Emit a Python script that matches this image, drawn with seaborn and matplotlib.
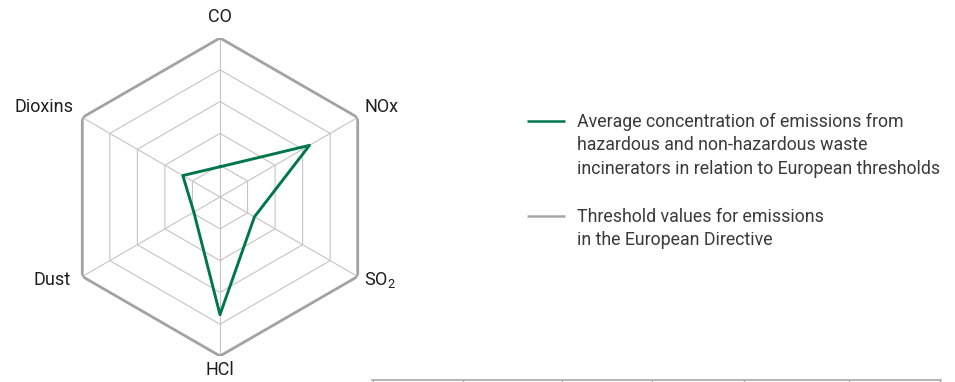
import numpy as np
import pandas as pd
import matplotlib
matplotlib.use("Agg")
import matplotlib.pyplot as plt
import seaborn as sns

# Pollutants around the radar, clockwise from the top
categories = ["CO", "NOx", r"SO$_\mathregular{2}$", "HCl", "Dust", "Dioxins"]
# Average emission concentration as a share of the European threshold
emissions = [0.19, 0.65, 0.25, 0.74, 0.19, 0.27]
# European Directive threshold (100 %)
threshold = [1.0, 1.0, 1.0, 1.0, 1.0, 1.0]
grid_levels = [0.2, 0.4, 0.6, 0.8]

legend_emissions = ["Average concentration of emissions from",
                    "hazardous and non-hazardous waste",
                    "incinerators in relation to European thresholds"]
legend_threshold = ["Threshold values for emissions",
                    "in the European Directive"]

GREEN = "#00774a"
GRAY_OUTER = "#a2a2a2"
GRAY_GRID = "#c4c4c4"
TEXT = "#1e1e1e"
LEGEND_TEXT = "#3a3a3a"

sns.set_theme(style="white")
plt.rcParams["font.family"] = ["Roboto", "DejaVu Sans"]
plt.rcParams["mathtext.fontset"] = "custom"
plt.rcParams["mathtext.rm"] = "Roboto"

fig = plt.figure(figsize=(9.55, 3.82), dpi=100)
W, H = 955, 382
cx, cy, R = 220, 197, 159
ax = fig.add_axes([(cx - R) / W, (H - cy - R) / H, 2 * R / W, 2 * R / H],
                  projection="polar")
ax.set_theta_offset(np.pi / 2)
ax.set_theta_direction(-1)

n = len(categories)
theta = np.arange(n) * 2 * np.pi / n
theta_closed = np.append(theta, theta[0])


def closed(values):
    return np.append(values, values[0])


# hexagonal grid rings and spokes
for lvl in grid_levels:
    ax.plot(theta_closed, [lvl] * (n + 1), color=GRAY_GRID, lw=0.8, zorder=1)
for t in theta:
    ax.plot([t, t], [0, 1], color=GRAY_GRID, lw=0.8, zorder=1)

df_thr = pd.DataFrame({"theta": theta_closed, "value": closed(threshold)})
df_em = pd.DataFrame({"theta": theta_closed, "value": closed(emissions)})

sns.lineplot(data=df_thr, x="theta", y="value", sort=False, estimator=None,
             color=GRAY_OUTER, lw=2.0, ax=ax, zorder=2)
sns.lineplot(data=df_em, x="theta", y="value", sort=False, estimator=None,
             color=GREEN, lw=2.1, ax=ax, zorder=3)

ax.set_ylim(0, 1)
ax.set_xticks([])
ax.set_yticks([])
ax.set_xlabel("")
ax.set_ylabel("")
ax.grid(False)
ax.spines["polar"].set_visible(False)
ax.patch.set_alpha(0)

# axis labels, offset in pixels from each outer vertex
label_style = [
    ((0, 21), "center", "center"),
    ((7, 11), "left", "center"),
    ((6, -4), "left", "center"),
    ((0, -14), "center", "center"),
    ((-12, -3), "right", "center"),
    ((-9, 10), "right", "center"),
]
for t, cat, (off, ha, va) in zip(theta, categories, label_style):
    ax.annotate(cat, xy=(t, 1.0), xytext=off, textcoords="offset pixels",
                ha=ha, va=va, fontsize=13, color=TEXT, annotation_clip=False)

# legend drawn in pixel space
ov = fig.add_axes([0, 0, 1, 1])
ov.set_xlim(0, W)
ov.set_ylim(H, 0)
ov.axis("off")
ov.patch.set_alpha(0)

ov.plot([527, 565], [121, 121], color=GREEN, lw=1.8, solid_capstyle="butt")
for i, line in enumerate(legend_emissions):
    ov.text(577, 121.5 + i * 23.7, line, ha="left", va="center",
            fontsize=12.8, color=LEGEND_TEXT)
ov.plot([527, 565], [216, 216], color="#a8a8a8", lw=1.8, solid_capstyle="butt")
for i, line in enumerate(legend_threshold):
    ov.text(577, 216.5 + i * 23.7, line, ha="left", va="center",
            fontsize=12.8, color=LEGEND_TEXT)

# axis line of the panel below
bx = fig.add_axes([372 / W, 2 / H, (941 - 372) / W, 10 / H])
bx.set_xlim(372, 941)
bx.set_ylim(0, 1)
for side in ["top", "left", "right"]:
    bx.spines[side].set_visible(False)
bx.spines["bottom"].set_color("#a8a8a8")
bx.spines["bottom"].set_linewidth(1.2)
bx.set_xticks([372.5, 463, 562, 652, 744, 849, 940])
bx.set_xticklabels([])
bx.set_yticks([])
bx.tick_params(axis="x", which="major", direction="out", length=2.5,
               width=1.0, color="#a8a8a8", bottom=True, labelbottom=False)
bx.xaxis.set_ticks_position("bottom")
bx.patch.set_alpha(0)

fig.savefig("out.png", dpi=100)
